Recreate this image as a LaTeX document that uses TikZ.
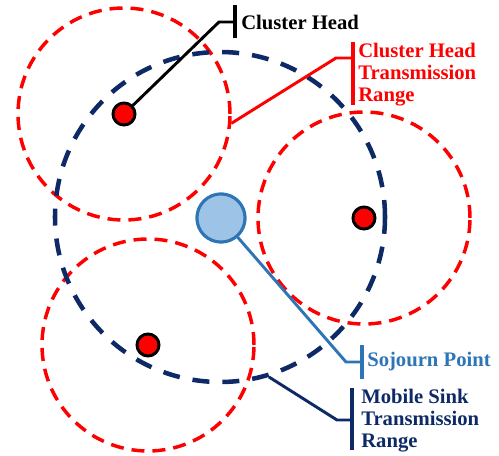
\documentclass[tikz,border=0pt]{standalone}
\usepackage{fontspec}
\setmainfont{Liberation Serif}
\definecolor{chred}{HTML}{FF0000}
\definecolor{navy}{HTML}{0E2A66}
\definecolor{spblue}{HTML}{2E75B6}
\definecolor{spfill}{HTML}{9DC3E6}
\begin{document}
\begin{tikzpicture}[x=0.75pt,y=-0.75pt,
  chrange/.style={circle,draw=chred,line width=2.6pt,dash pattern=on 9.75pt off 6pt,minimum size=159pt,inner sep=0pt},
  msrange/.style={circle,draw=navy,line width=3.4pt,dash pattern=on 12.75pt off 9.75pt,minimum size=247.5pt,inner sep=0pt},
  chdot/.style={circle,fill=chred,draw=black,line width=2.25pt,minimum size=16.5pt,inner sep=0pt},
  sojourn/.style={circle,fill=spfill,draw=spblue,line width=2.25pt,minimum size=36pt,inner sep=0pt},
  leader/.style={line width=2.2pt},
  labelbar/.style={line width=2.7pt},
  lbl/.style={anchor=west,inner sep=0pt,align=left,font=\bfseries\fontsize{15.5}{16.5}\selectfont}]
\useasboundingbox (0,0) rectangle (499,456);

% transmission ranges
\node[chrange] (r1) at (124,114) {};
\node[chrange] (r2) at (364,218) {};
\node[chrange] (r3) at (148,345) {};
\node[msrange] (ms) at (220,217) {};

% cluster heads
\node[chdot] (ch1) at (124,114) {};
\node[chdot] (ch2) at (364,218) {};
\node[chdot] (ch3) at (148,345) {};

% label: cluster head
\coordinate (chknee) at (219,22);
\coordinate (chbar) at (235,22);
\draw[leader,black] (ch1) -- (chknee) -- (chbar);
\draw[labelbar,black] (235,5) -- (235,38);
\node[lbl,text=black] (chlabel) at (241,22) {Cluster Head};

% label: cluster head transmission range
\coordinate (crknee) at (336,58);
\coordinate (crbar) at (353,58);
\draw[leader,chred] (r1.-5) -- (crknee) -- (crbar);
\draw[labelbar,chred] (353,42) -- (353,105);
\node[lbl,text=chred] (crlabel) at (358,75) {Cluster Head\\Transmission\\Range};

% label: mobile sink transmission range
\coordinate (msknee) at (337,420);
\coordinate (msbar) at (352,420);
\draw[leader,navy] (ms.-73) -- (msknee) -- (msbar);
\draw[labelbar,navy] (352,388) -- (352,450);
\node[lbl,text=navy] (mslabel) at (361,421) {Mobile Sink\\Transmission\\Range};

% sojourn point and its label
\node[sojourn] (sp) at (221,218) {};
\coordinate (spknee) at (346,362);
\coordinate (spbar) at (362,362);
\draw[leader,spblue] (sp) -- (spknee) -- (spbar);
\draw[labelbar,spblue] (362,345) -- (362,379);
\node[lbl,text=spblue] (splabel) at (367,362) {Sojourn Point};
\node[sojourn] at (sp) {};
\end{tikzpicture}
\end{document}
